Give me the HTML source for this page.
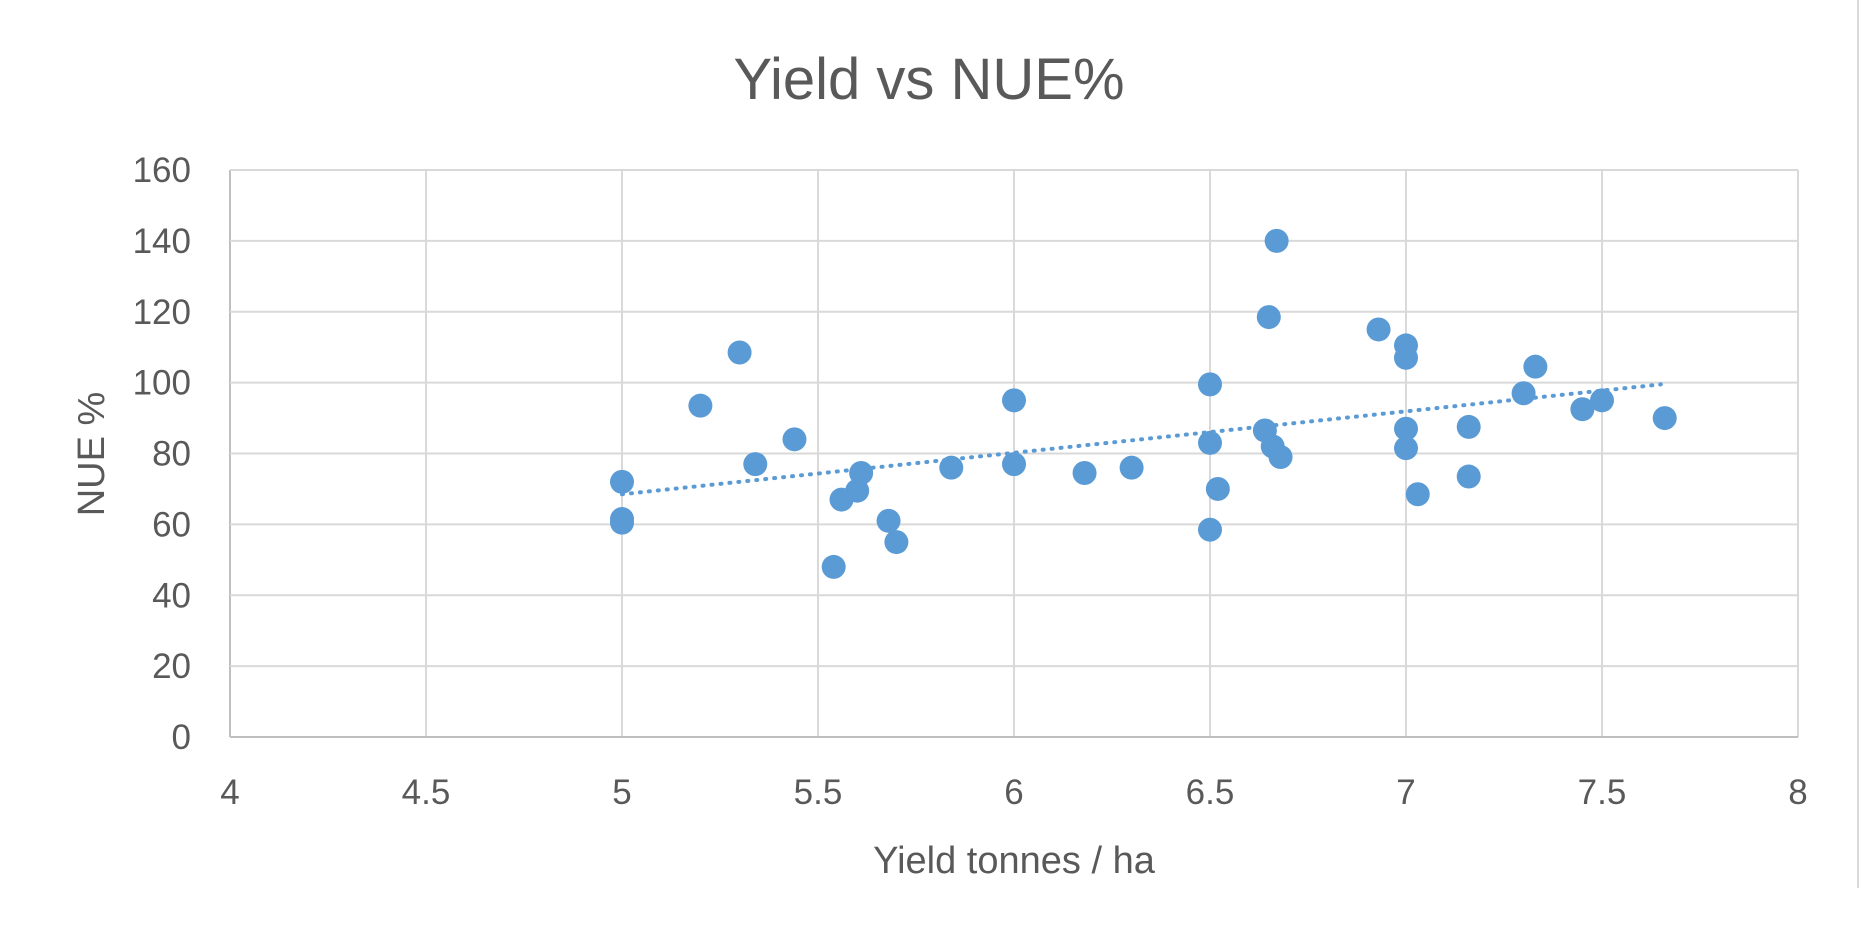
<!DOCTYPE html>
<html><head><meta charset="utf-8"><style>
html,body{margin:0;padding:0;background:#fff;}
svg{display:block;font-family:"Liberation Sans",sans-serif;}
</style></head><body>
<svg id="c" width="1860" height="943" viewBox="0 0 1860 943" xmlns="http://www.w3.org/2000/svg">
<rect width="1860" height="943" fill="#fff"/>
<line x1="1858" y1="0" x2="1858" y2="888" stroke="#d9d9d9" stroke-width="2"/>
<text x="929" y="99" text-anchor="middle" font-size="58" fill="#595959">Yield vs NUE%</text>
<g id="grid"></g>
<g id="pts"></g>
<text x="1014" y="873" text-anchor="middle" font-size="38" fill="#595959">Yield tonnes / ha</text>
<text transform="translate(104,454) rotate(-90)" text-anchor="middle" font-size="38" fill="#595959">NUE %</text>
</svg>
<script>
var NS="http://www.w3.org/2000/svg";
function X(v){return 230+(v-4)*392;}
function Y(v){return 737-v*(567/160);}
function el(t,a,p,txt){var e=document.createElementNS(NS,t);for(var k in a)e.setAttribute(k,a[k]);if(txt!==undefined)e.textContent=txt;p.appendChild(e);return e;}
var g=document.getElementById('grid');
for(var i=0;i<=8;i++){var v=4+i*0.5,x=X(v);
 el('line',{x1:x,y1:Y(160),x2:x,y2:Y(0),stroke:i==0?'#bfbfbf':'#d9d9d9','stroke-width':2},g);
 el('text',{x:x,y:804,'text-anchor':'middle','font-size':35,fill:'#595959'},g,String(v));}
for(var j=0;j<=8;j++){var v=j*20,y=Y(v);
 el('line',{x1:X(4),y1:y,x2:X(8),y2:y,stroke:j==0?'#bfbfbf':'#d9d9d9','stroke-width':2},g);
 el('text',{x:191,y:y+12,'text-anchor':'end','font-size':35,fill:'#595959'},g,String(v));}
var d=[[5,72],[5,61.5],[5,60.5],[5.2,93.5],[5.3,108.5],[5.34,77],[5.44,84],[5.54,48],[5.56,67],[5.6,69.5],[5.61,74.5],[5.68,61],[5.7,55],[5.84,76],[6,95],[6,77],[6.18,74.5],[6.3,76],[6.5,99.5],[6.5,83],[6.5,58.5],[6.52,70],[6.64,86.5],[6.65,118.5],[6.66,82],[6.67,140],[6.68,79],[6.93,115],[7,110.5],[7,107],[7,87],[7,81.5],[7.03,68.5],[7.16,87.5],[7.16,73.5],[7.3,97],[7.33,104.5],[7.45,92.5],[7.5,95],[7.66,90]];
var p=document.getElementById('pts');
d.forEach(function(q){el('circle',{cx:X(q[0]),cy:Y(q[1]),r:12,fill:'#5b9bd5'},p);});
el('line',{x1:X(5),y1:Y(68.5),x2:X(7.65),y2:Y(99.5),stroke:'#5b9bd5','stroke-width':4,'stroke-dasharray':'1 8','stroke-linecap':'round'},p);
</script>
</body></html>
